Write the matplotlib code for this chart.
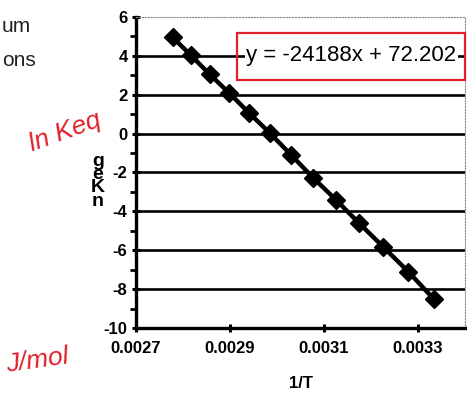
import matplotlib.pyplot as plt
import matplotlib.ticker as ticker
from matplotlib.patches import Rectangle

# data
inv_T = [0.002778, 0.002817, 0.002857, 0.002899, 0.002941, 0.002985, 0.003030,
         0.003077, 0.003125, 0.003175, 0.003226, 0.003279, 0.003333]
ln_K = [4.95, 4.02, 3.04, 2.07, 1.05, 0.02, -1.10, -2.28, -3.40, -4.62,
        -5.83, -7.10, -8.50]
x_ticks = [0.0027, 0.0029, 0.0031, 0.0033]
y_ticks = [-10, -8, -6, -4, -2, 0, 2, 4, 6]
equation = "y = -24188x + 72.202"

plt.rcParams["font.family"] = ["Liberation Sans", "DejaVu Sans"]
plt.rcParams["axes.unicode_minus"] = False

fig = plt.figure(figsize=(4.67, 4.01), dpi=100)
ax = fig.add_axes([0.291, 0.182, 0.705, 0.776])

ax.set_xlim(0.0027, 0.0034)
ax.set_ylim(-10, 6)

# gridlines at every major y tick
for yv in y_ticks[1:-1]:
    ax.axhline(yv, color="black", lw=1.9, zorder=1)

ax.plot(inv_T, ln_K, color="black", lw=3.2, zorder=3,
        marker="D", markersize=9.5, markerfacecolor="black",
        markeredgecolor="black")

ax.set_xticks(x_ticks)
ax.xaxis.set_major_formatter(ticker.FuncFormatter(lambda v, _: f"{v:.4f}"))
ax.set_yticks(y_ticks)
ax.yaxis.set_minor_locator(ticker.MultipleLocator(1))
ax.tick_params(axis="both", which="major", labelsize=12, width=2.2,
               length=6, direction="inout", color="black")
ax.tick_params(axis="y", which="minor", width=2, length=4, direction="out")
ax.tick_params(axis="x", pad=6)
ax.tick_params(axis="y", pad=3)
for lab in ax.get_xticklabels() + ax.get_yticklabels():
    lab.set_fontweight("bold")

ax.spines["left"].set_linewidth(2.4)
ax.spines["bottom"].set_linewidth(2.4)
for s in ("top", "right"):
    ax.spines[s].set_linewidth(0.8)
    ax.spines[s].set_color("#888888")
    ax.spines[s].set_linestyle(":")

ax.set_xlabel("1/T", fontsize=12, fontweight="bold", labelpad=15)

# stacked y label as it appears in the scan
fig.text(0.21, 0.548, "g\ne\nK\nn", fontsize=14, fontweight="bold",
         ha="center", va="center", linespacing=0.72)

# trendline equation box
fig.text(0.527, 0.862, equation, fontsize=16, ha="left", va="center",
         zorder=5, bbox=dict(facecolor="white", edgecolor="none", pad=1))
fig.patches.append(Rectangle((0.508, 0.80), 0.488, 0.117,
                             transform=fig.transFigure, fill=False,
                             edgecolor="#e0202a", lw=1.6, zorder=6))

# slide text fragments on the left
fig.text(0.004, 0.935, "um", fontsize=15, ha="left", va="center",
         color="#222222")
fig.text(0.004, 0.85, "ons", fontsize=15, ha="left", va="center",
         color="#222222")

# red handwriting
fig.text(0.14, 0.67, "ln Keq", fontsize=19, color="#e0202a",
         style="italic", ha="center", va="center", rotation=20)
fig.text(0.01, 0.10, "J/mol", fontsize=19, color="#e0202a",
         style="italic", ha="left", va="center", rotation=8)

fig.savefig("out.png", dpi=100, facecolor="white")
